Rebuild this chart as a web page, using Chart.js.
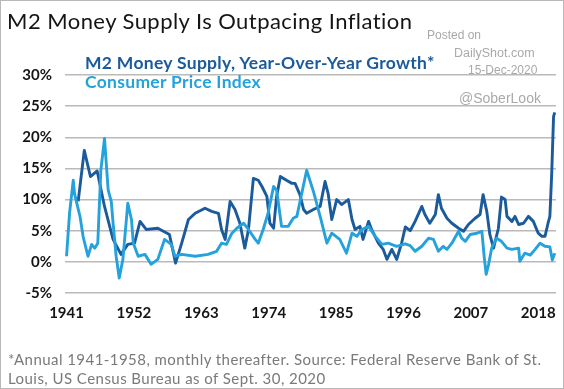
<!DOCTYPE html>
<html>
<head>
<meta charset="utf-8">
<script src="https://cdn.jsdelivr.net/npm/chart.js@4.4.1/dist/chart.umd.min.js"></script>
<style>
    html, body { margin: 0; padding: 0; background: #fff; }
    #frame { position: relative; width: 564px; height: 389px; overflow: hidden; font-family: Lato, sans-serif; }
    #frame-border { position: absolute; left: 0; top: 0; width: 564px; height: 389px; box-sizing: border-box; border: 1px solid #b8b8b8; pointer-events: none; }
    #chart { position: absolute; left: 0; top: 0; }
    .txt { position: absolute; white-space: nowrap; line-height: 1; }
    .title { left: 7px; top: 10px; font-size: 22px; letter-spacing: 0.45px; color: #151515; }
    .legend { left: 85px; font-size: 17.5px; letter-spacing: 0.3px; font-weight: bold; }
    .wm { font-family: "Liberation Sans", Arial, sans-serif; color: #a9a9a9; }
    .note { left: 8px; font-size: 15px; letter-spacing: 0.45px; color: #7a7a7a; }
</style>
</head>
<body>
<div id="frame">
    <canvas id="chart" width="564" height="389"></canvas>
    <div class="txt title">M2 Money Supply Is Outpacing Inflation</div>
    <div class="txt legend" style="top:54px; color:#1b5a9b;">M2 Money Supply, Year-Over-Year Growth*</div>
    <div class="txt legend" style="top:73px; color:#25a2dc;">Consumer Price Index</div>
    <div class="txt wm" style="left:427px; top:29px; font-size:12px;">Posted on</div>
    <div class="txt wm" style="left:454px; top:47px; font-size:12.5px;">DailyShot.com</div>
    <div class="txt wm" style="left:468px; top:64px; font-size:12px;">15-Dec-2020</div>
    <div class="txt wm" style="left:459px; top:91px; font-size:14px;">@SoberLook</div>
    <div class="txt note" style="top:352px;">*Annual 1941-1958, monthly thereafter. Source: Federal Reserve Bank of St.</div>
    <div class="txt note" style="top:371px;">Louis, US Census Bureau as of Sept. 30, 2020</div>
    <div id="frame-border"></div>
</div>
<script>
// values (year, % y/y)
const m2Years = [1942.9, 1943.9, 1944.9, 1946.0, 1947.2, 1948.6, 1949.9, 1951.0, 1952.1, 1953.0,
    1954.0, 1955.9, 1957.8, 1958.8, 1959.8, 1960.9, 1962.0, 1963.6, 1964.7, 1965.8,
    1966.3, 1966.9, 1967.7, 1968.5, 1969.3, 1970.1, 1970.7, 1971.5, 1972.3, 1972.9,
    1973.7, 1974.2, 1974.8, 1975.3, 1975.9, 1976.9, 1977.8, 1978.3, 1979.1, 1979.7,
    1980.2, 1981.3, 1982.4, 1983.2, 1983.7, 1984.3, 1985.1, 1985.9, 1987.0, 1987.6,
    1988.1, 1988.9, 1989.4, 1990.3, 1990.8, 1991.9, 1992.7, 1993.3, 1994.1, 1994.9,
    1995.7, 1996.3, 1997.1, 1997.9, 1999.0, 1999.5, 2000.3, 2001.2, 2001.7, 2002.2,
    2003.1, 2003.9, 2005.0, 2005.8, 2006.6, 2007.7, 2008.5, 2009.0, 2009.6, 2010.1,
    2010.7, 2011.5, 2012.0, 2012.6, 2012.9, 2013.7, 2014.2, 2014.8, 2015.6, 2016.4,
    2017.2, 2018.0, 2018.6, 2019.1, 2019.6, 2019.9, 2020.2, 2020.5, 2020.7];
const m2Values = [9.7, 17.9, 13.7, 14.6, 8.9, 3.6, 1.2, 2.8, 3.0, 6.5,
    5.2, 5.4, 4.4, -0.2, 3.0, 6.8, 7.8, 8.6, 8.1, 7.8,
    5.2, 3.6, 9.7, 8.4, 6.2, 2.2, 5.2, 13.4, 13.1, 12.1,
    10.5, 6.2, 5.4, 10.5, 13.7, 13.1, 12.6, 12.6, 10.8, 8.4,
    7.8, 8.4, 8.9, 12.9, 11.0, 6.8, 10.0, 9.2, 10.0, 6.8,
    5.2, 5.7, 3.6, 6.5, 5.2, 3.0, 2.0, 0.4, 2.0, 0.4,
    3.0, 5.6, 5.0, 6.5, 8.9, 7.6, 6.2, 7.6, 10.8, 8.6,
    7.0, 6.2, 5.4, 4.9, 6.0, 7.0, 7.6, 10.8, 8.1, 4.4,
    2.2, 5.4, 10.4, 10.0, 7.3, 6.5, 7.3, 6.0, 6.2, 7.3,
    6.5, 4.6, 4.1, 4.1, 6.2, 7.3, 14.2, 23.3, 24.0];

const cpiYears = [1941.0, 1941.5, 1942.1, 1942.3, 1942.6, 1943.2, 1943.7, 1944.5, 1945.1, 1945.6,
    1946.1, 1946.6, 1947.2, 1947.8, 1948.3, 1948.6, 1949.1, 1949.6, 1950.2, 1951.0,
    1951.6, 1951.9, 1952.7, 1953.8, 1954.8, 1955.9, 1957.0, 1958.1, 1958.7, 1959.8,
    1962.0, 1964.1, 1965.5, 1966.3, 1967.1, 1968.0, 1968.8, 1969.9, 1970.7, 1971.8,
    1972.3, 1973.1, 1973.9, 1974.8, 1975.3, 1976.1, 1977.2, 1978.0, 1978.6, 1980.2,
    1981.3, 1982.4, 1983.5, 1984.3, 1985.6, 1986.7, 1987.6, 1988.4, 1989.2, 1990.3,
    1991.4, 1992.5, 1993.5, 1994.9, 1996.3, 1997.1, 1997.9, 1999.0, 2000.1, 2000.9,
    2001.7, 2002.5, 2003.1, 2003.9, 2005.0, 2005.5, 2006.1, 2006.9, 2008.0, 2008.8,
    2009.2, 2009.5, 2009.9, 2010.4, 2011.2, 2012.0, 2012.9, 2013.7, 2014.8, 2015.0,
    2015.8, 2016.7, 2017.5, 2018.3, 2019.1, 2019.9, 2020.3, 2020.7];
const cpiValues = [0.9, 7.9, 13.1, 11.0, 9.7, 7.3, 4.1, 0.9, 2.8, 2.2,
    3.0, 14.7, 19.8, 11.5, 9.7, 6.2, 0.9, -2.6, 0.4, 9.4,
    6.8, 3.0, 0.9, 1.2, -0.4, 0.4, 3.6, 2.8, 0.9, 1.2,
    0.9, 1.2, 1.7, 3.0, 2.8, 4.6, 5.4, 6.2, 5.2, 3.6,
    3.0, 5.2, 7.8, 12.1, 11.5, 5.7, 5.7, 7.0, 7.3, 14.7,
    11.3, 7.3, 3.0, 4.6, 3.6, 1.4, 4.6, 4.1, 5.2, 5.7,
    4.1, 2.8, 3.0, 2.5, 2.9, 2.6, 1.7, 2.5, 3.8, 3.6,
    1.7, 2.5, 2.0, 3.0, 4.9, 3.8, 3.3, 4.4, 4.6, 4.9,
    0.6, -2.0, -0.4, 2.2, 3.8, 3.3, 2.2, 2.0, 2.2, 0.1,
    1.4, 1.1, 2.0, 3.0, 2.5, 2.4, 0.3, 1.4];

const tickYears = [1941, 1952, 1963, 1974, 1985, 1996, 2007, 2018];
const yTicks = [-5, 0, 5, 10, 15, 20, 25, 30];

const DARK = "#1b5a9b";
const LIGHT = "#25a2dc";

function toPoints(xs, ys) {
    return xs.map((x, i) => { return { x: x, y: ys[i] } });
}

window.addEventListener("load", () => {
    const ctx = document.getElementById("chart");

    new Chart(ctx, {
        type: "line",
        data: {
            datasets: [{
                label: "Consumer Price Index",
                data: toPoints(cpiYears, cpiValues),
                borderColor: LIGHT,
                borderWidth: 2.9,
                pointRadius: 0,
                tension: 0,
                borderJoinStyle: "round"
            }, {
                label: "M2 Money Supply, Year-Over-Year Growth*",
                data: toPoints(m2Years, m2Values),
                borderColor: DARK,
                borderWidth: 2.9,
                pointRadius: 0,
                tension: 0,
                borderJoinStyle: "round"
            }]
        },
        options: {
            responsive: false,
            animation: false,
            layout: { padding: { top: 75, right: 8, bottom: 0, left: 0 } },
            plugins: { legend: { display: false }, tooltip: { enabled: false } },
            scales: {
                x: {
                    type: "linear",
                    min: 1940.75,
                    max: 2020.9,
                    afterBuildTicks: (axis) => { axis.ticks = tickYears.map((v) => { return { value: v } }) },
                    afterFit: (axis) => { axis.height = 96 },
                    grid: { display: false },
                    border: { display: false },
                    ticks: {
                        padding: 3,
                        maxRotation: 0,
                        autoSkip: false,
                        color: "#151515",
                        font: { family: "Lato", size: 15, weight: "bold" },
                        callback: (v) => String(v)
                    }
                },
                y: {
                    min: -5,
                    max: 30,
                    afterBuildTicks: (axis) => { axis.ticks = yTicks.map((v) => { return { value: v } }) },
                    afterFit: (axis) => { axis.width = 65 },
                    grid: { color: "#bababa", lineWidth: 1.4, drawTicks: false },
                    border: { display: false },
                    ticks: {
                        padding: 13,
                        color: "#151515",
                        font: { family: "Lato", size: 15, weight: "bold" },
                        callback: (v) => v + "%"
                    }
                }
            }
        }
    });
});
</script>
</body>
</html>
